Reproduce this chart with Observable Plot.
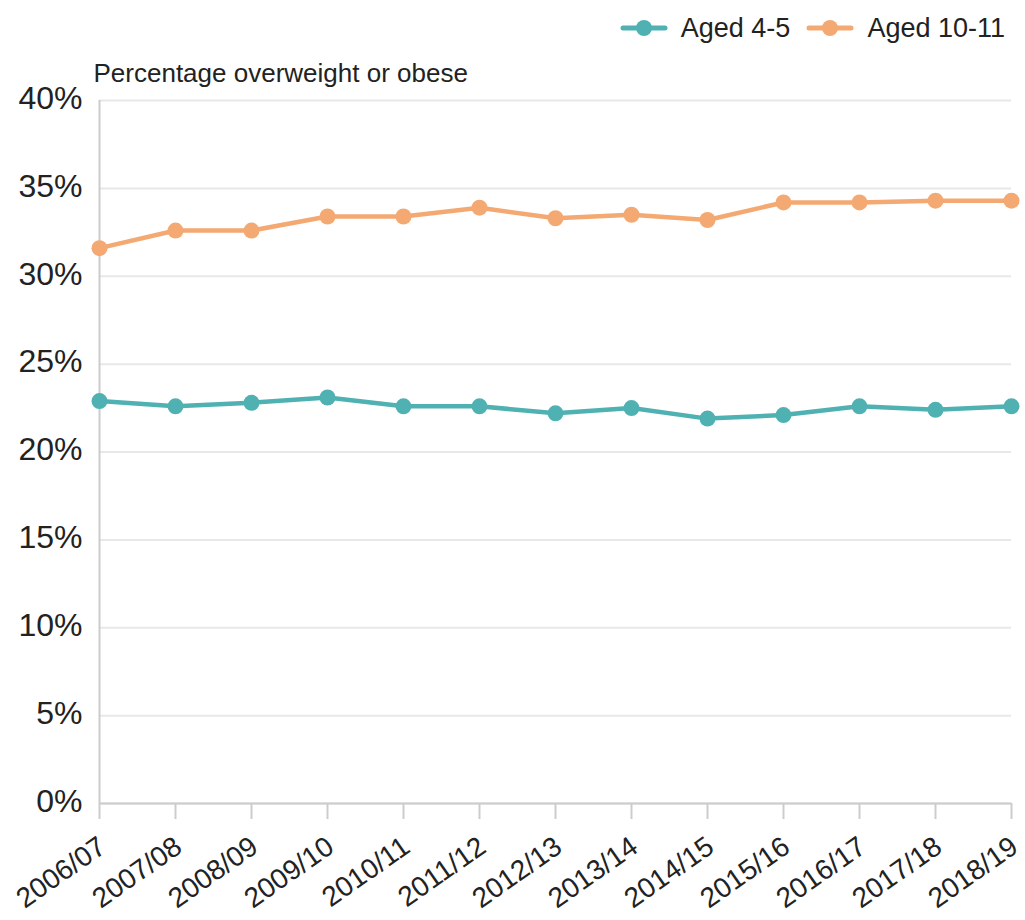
<!DOCTYPE html>
<html>
<head>
<meta charset="utf-8">
<script src="https://cdn.jsdelivr.net/npm/d3@7"></script>
<script src="https://cdn.jsdelivr.net/npm/@observablehq/plot@0.6"></script>
<style>
  body { margin: 0; background: #fff; font-family: "Liberation Sans", Arial, Helvetica, sans-serif; color: #222; }
  #legend { height: 56px; display: flex; justify-content: flex-end; align-items: center; padding-right: 20px; box-sizing: border-box; gap: 16px; }
  .item { display: flex; align-items: center; font-size: 27px; }
  .item svg { margin-right: 13px; }
</style>
</head>
<body>
<div id="legend"></div>
<div id="chart"></div>
<script>
const years = ["2006/07","2007/08","2008/09","2009/10","2010/11","2011/12","2012/13","2013/14","2014/15","2015/16","2016/17","2017/18","2018/19"];
const aged45 = [22.9, 22.6, 22.8, 23.1, 22.6, 22.6, 22.2, 22.5, 21.9, 22.1, 22.6, 22.4, 22.6];
const aged1011 = [31.6, 32.6, 32.6, 33.4, 33.4, 33.9, 33.3, 33.5, 33.2, 34.2, 34.2, 34.3, 34.3];
const seriesNames = ["Aged 4-5", "Aged 10-11"];
const seriesColors = ["#50b1b3", "#f4a972"];
const yTicks = [0, 5, 10, 15, 20, 25, 30, 35, 40];
const yTitle = "Percentage overweight or obese";

const data = [];
years.forEach((y, i) => {
  data.push({year: y, value: aged45[i], series: seriesNames[0]});
  data.push({year: y, value: aged1011[i], series: seriesNames[1]});
});

// Legend
const legend = document.getElementById("legend");
seriesNames.forEach((name, i) => {
  const el = document.createElement("div");
  el.className = "item";
  el.innerHTML = `<svg width="48" height="18"><line x1="3" x2="45" y1="9" y2="9" stroke="${seriesColors[i]}" stroke-width="5" stroke-linecap="round"/><circle cx="24" cy="9" r="8" fill="${seriesColors[i]}"/></svg><span>${name}</span>`;
  legend.appendChild(el);
});

const chart = Plot.plot({
  width: 1025,
  height: 864,
  marginLeft: 99,
  marginRight: 14,
  marginTop: 44,
  marginBottom: 117,
  style: { fontFamily: "'Liberation Sans', Arial, Helvetica, sans-serif", color: "#222", background: "#fff" },
  x: { type: "point", domain: years, padding: 0, label: null },
  y: { domain: [0, 40], label: null },
  color: { domain: seriesNames, range: seriesColors },
  marks: [
    Plot.gridY(yTicks, { stroke: "#e8e8e8", strokeOpacity: 1, strokeWidth: 2 }),
    Plot.ruleX([years[0]], { stroke: "#cccccc", strokeWidth: 2 }),
    Plot.ruleY([0], { stroke: "#cccccc", strokeWidth: 2 }),
    Plot.axisY(yTicks, { tickSize: 0, tickPadding: 17, tickFormat: d => d + "%", fontSize: 32, fill: "#222", dy: -2 }),
    Plot.axisX({ tickSize: 16, stroke: "#cccccc", strokeWidth: 2, tickFormat: () => "" }),
    Plot.axisX({ tickSize: 0, tickRotate: -35, fontSize: 28, fill: "#222", tickPadding: 40, dx: 3 }),
    Plot.text([yTitle], { frameAnchor: "top-left", dx: -6, dy: -37, fontSize: 26, fill: "#222", textAnchor: "start" }),
    Plot.line(data, { x: "year", y: "value", z: "series", stroke: "series", strokeWidth: 4.5 }),
    Plot.dot(data, { x: "year", y: "value", fill: "series", r: 8 })
  ]
});
document.getElementById("chart").appendChild(chart);
</script>
</body>
</html>
